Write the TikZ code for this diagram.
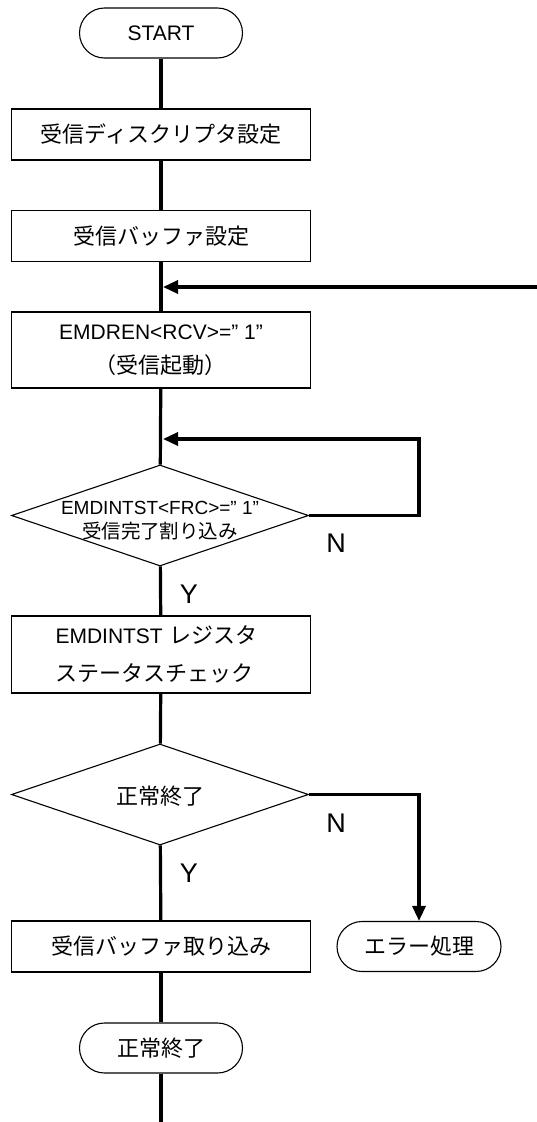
\documentclass[tikz,border=0pt]{standalone}
\usepackage{fontspec}
\setmainfont{Liberation Sans}
\newfontfamily\jp{Noto Sans CJK JP}
\newcommand\jpt[1]{{\jp\fontsize{22}{22}\selectfont #1}}
\usetikzlibrary{arrows.meta,shapes.geometric}
\begin{document}
\begin{tikzpicture}[x=1pt,y=-1pt,
 every node/.style={font=\fontsize{21}{21}\selectfont},
 box/.style={draw, line width=1.1pt, minimum width=299pt, minimum height=51pt, inner sep=0pt},
 term/.style={draw, line width=1.1pt, rounded corners=25pt, minimum width=163pt, minimum height=50pt, inner sep=0pt},
 dia/.style={draw, diamond, line width=1.1pt, minimum width=297pt, minimum height=101pt, inner sep=0pt},
 flow/.style={line width=3.2pt},
 arr/.style={flow, -{Triangle[length=15pt,width=13pt]}},
 lbl/.style={font=\fontsize{27}{27}\selectfont}
]
\path[use as bounding box] (0,0) rectangle (536,1122);

\node[term] (start) at (161,33) {START};
\node[box] (b1) at (161,134.5) {\jpt{受信ディスクリプタ設定}};
\node[box] (b2) at (161,236) {\jpt{受信バッファ設定}};
\coordinate (m1) at (163,287);
\coordinate (rin) at (537,287);
\node[box, minimum height=76pt, align=center, font=\fontsize{21}{34}\selectfont] (b3) at (161,350)
  {EMDREN<RCV>=”\ 1”\\\jpt{（受信起動）}};
\coordinate (m2) at (163,439);
\coordinate (l1) at (419,439);
\node[dia] (d1) at (160,515.5) {};
\node[align=center, font=\fontsize{19}{24}\selectfont] (d1t) at (160,521)
  {EMDINTST<FRC>=”\ 1”\\{\jp\fontsize{19.5}{24}\selectfont 受信完了割り込み}};
\node[lbl] (n1) at (336,543) {N};
\node[lbl] (y1) at (189,594) {Y};
\node[box, minimum height=77pt, text width=211pt, align=left, font=\fontsize{21}{38}\selectfont] (b4) at (161,654.5)
  {EMDINTST \jpt{レジスタ}\\\jpt{ステータスチェック}};
\node[dia] (d2) at (160,794.5) {};
\node (d2t) at (160,796) {\jpt{正常終了}};
\node[lbl] (n2) at (336,823) {N};
\node[lbl] (y2) at (189,873) {Y};
\node[box] (b5) at (161,946.5) {\jpt{受信バッファ取り込み}};
\node[term, minimum width=164pt] (err) at (419,946.5) {\jpt{エラー処理}};
\node[term] (fin) at (161,1048) {\jpt{正常終了}};
\coordinate (bot) at (161,1123);

\draw[flow] (start) -- (b1);
\draw[flow] (b1) -- (b2);
\draw[flow] (b2) -- (b3);
\draw[arr] (rin) -- (m1);
\draw[flow] (b3) -- (d1);
\draw[arr] (d1.east) -| (l1) -- (m2);
\draw[flow] (d1) -- (b4);
\draw[flow] (b4) -- (d2);
\draw[flow] (d2) -- (b5);
\draw[arr] (d2.east) -| (err);
\draw[flow] (b5) -- (fin);
\draw[flow] (fin) -- (bot);
\end{tikzpicture}
\end{document}
